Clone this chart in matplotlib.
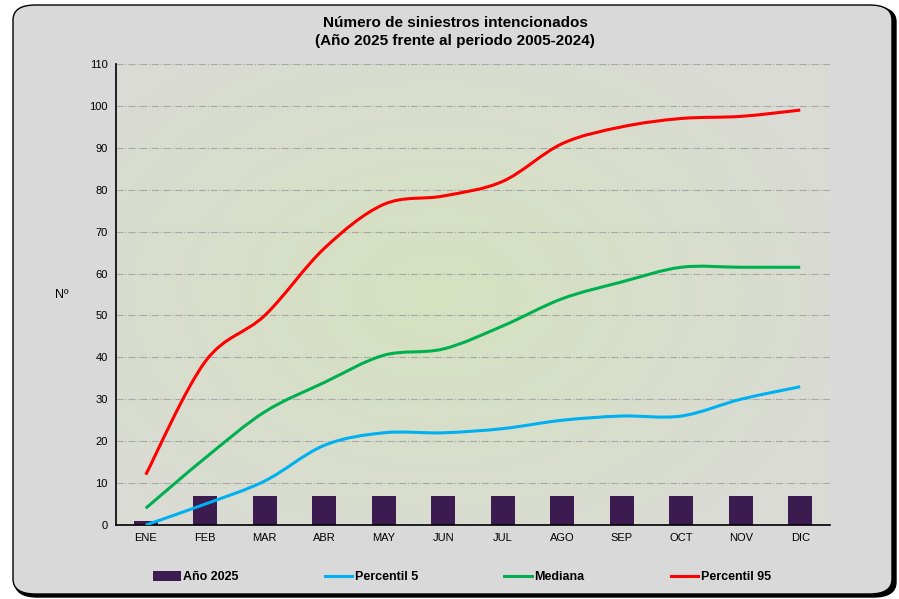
import numpy as np
import matplotlib.pyplot as plt
from matplotlib.path import Path
from matplotlib.patches import PathPatch, FancyBboxPatch, Patch
from matplotlib.lines import Line2D
from matplotlib.colors import LinearSegmentedColormap

plt.rcParams['font.family'] = ['Liberation Sans', 'DejaVu Sans']

meses = ["ENE", "FEB", "MAR", "ABR", "MAY", "JUN", "JUL", "AGO", "SEP", "OCT", "NOV", "DIC"]
anio_2025 = [1, 7, 7, 7, 7, 7, 7, 7, 7, 7, 7, 7]
percentil_5 = [0, 5, 10.5, 19, 22, 22, 23, 25, 26, 26, 30, 33]
mediana = [4, 16, 27, 34, 40.5, 42, 47.5, 54, 58, 61.5, 61.5, 61.5]
percentil_95 = [12, 39, 50, 66, 76.5, 78.5, 82, 91, 95, 97, 97.5, 99]


def smooth_path(x, y):
    # Excel style smoothed line: cubic bezier with catmull-rom handles
    x = np.asarray(x, float)
    y = np.asarray(y, float)
    pts = np.column_stack([x, y])
    n = len(pts)
    verts = [pts[0]]
    codes = [Path.MOVETO]
    for i in range(n - 1):
        p0 = pts[i - 1] if i > 0 else pts[i]
        p1 = pts[i]
        p2 = pts[i + 1]
        p3 = pts[i + 2] if i + 2 < n else pts[i + 1]
        c1 = p1 + (p2 - p0) / 6.0
        c2 = p2 - (p3 - p1) / 6.0
        verts += [c1, c2, p2]
        codes += [Path.CURVE4] * 3
    return Path(verts, codes)


fig = plt.figure(figsize=(8.99, 5.99), dpi=100)
fig.patch.set_facecolor('white')

# rounded frame with shadow
shadow = FancyBboxPatch((15 / 899, 2 / 599), 881 / 899, 590 / 599,
                        boxstyle="round,pad=0,rounding_size=0.025",
                        transform=fig.transFigure, facecolor='black',
                        edgecolor='black', lw=1, zorder=-3)
frame = FancyBboxPatch((13 / 899, 5 / 599), 879 / 899, 589 / 599,
                       boxstyle="round,pad=0,rounding_size=0.025",
                       transform=fig.transFigure, facecolor='#d9d9d9',
                       edgecolor='black', lw=1, zorder=-2)
fig.patches.extend([shadow, frame])

ax = fig.add_axes([116 / 899, 1 - 525 / 599, 714 / 899, 461 / 599])
ax.set_facecolor('none')

# radial gradient background
gx, gy = np.meshgrid(np.linspace(0, 1, 300), np.linspace(0, 1, 200))
r = np.sqrt(((gx - 0.45) / 0.6) ** 2 + ((gy - 0.5) / 0.65) ** 2)
r = np.clip(r, 0, 1)
cmap = LinearSegmentedColormap.from_list('bg', ['#d5e2bf', '#dadbd5'])
ax.imshow(r, cmap=cmap, extent=[-0.5, 11.5, 0, 110], aspect='auto',
          origin='lower', zorder=0, vmin=0, vmax=1)

x = np.arange(len(meses))
ax.bar(x, anio_2025, width=0.4, color='#3b1b50', zorder=2)

series = [(percentil_5, '#00b0f0'), (mediana, '#00b050'), (percentil_95, '#ff0000')]
for vals, col in series:
    ax.add_patch(PathPatch(smooth_path(x, vals), facecolor='none', edgecolor=col,
                           lw=2.2, capstyle='butt', zorder=3))

ax.set_xlim(-0.5, 11.5)
ax.set_ylim(0, 110)
ax.set_yticks(np.arange(0, 111, 10))
ax.set_xticks(x)
ax.set_xticklabels(meses)
ax.tick_params(length=0, labelsize=8, pad=6)
ax.grid(axis='y', color='#a8a8a8', linestyle='-.', lw=0.8, zorder=1)
ax.set_axisbelow(True)
for s in ['top', 'right']:
    ax.spines[s].set_visible(False)
ax.spines['left'].set_linewidth(1.2)
ax.spines['bottom'].set_linewidth(1.2)

ax.set_ylabel('Nº', rotation=0, fontsize=9, labelpad=20, va='center')

fig.text(455 / 899, 1 - 32 / 599,
         'Número de siniestros intencionados\n(Año 2025 frente al periodo 2005-2024)',
         ha='center', va='center', fontsize=11, fontweight='bold', linespacing=1.4)

handles = [Patch(facecolor='#3b1b50'),
           Line2D([], [], color='#00b0f0', lw=2.2),
           Line2D([], [], color='#00b050', lw=2.2),
           Line2D([], [], color='#ff0000', lw=2.2)]
labels = ['Año 2025', 'Percentil 5', 'Mediana', 'Percentil 95']
fig.legend(handles, labels, loc='center', bbox_to_anchor=(462 / 899, 1 - 577 / 599),
           ncol=4, frameon=False, prop={'weight': 'bold', 'size': 9},
           handlelength=2.2, handletextpad=0.2, columnspacing=6.9,
           handleheight=0.8)

fig.savefig('out.png', dpi=100)
